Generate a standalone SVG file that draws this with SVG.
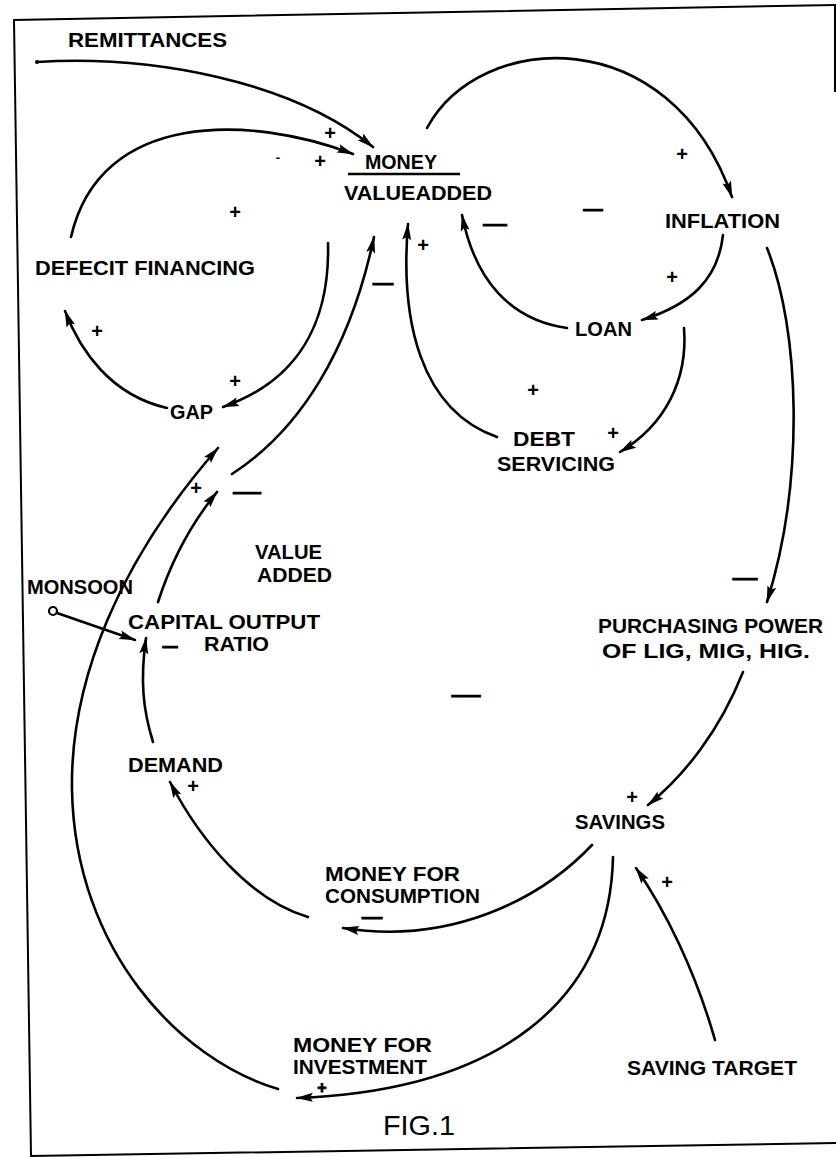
<svg xmlns="http://www.w3.org/2000/svg" width="836" height="1157" viewBox="0 0 836 1157">
<style>
.t{font-family:"Liberation Sans",Arial,sans-serif;font-weight:bold;font-size:21px;fill:#000}
.s{font-family:"Liberation Sans",Arial,sans-serif;font-weight:bold;font-size:20px;fill:#000;text-anchor:middle}
.d{font-family:"Liberation Sans",Arial,sans-serif;font-weight:bold;font-size:17px;fill:#000;stroke:#000;stroke-width:1.2;text-anchor:middle}
.c{fill:none;stroke:#000;stroke-width:2.6;stroke-linecap:round}
.b{fill:none;stroke:#000;stroke-width:2}
</style>
<defs>
<marker id="ah" markerUnits="userSpaceOnUse" markerWidth="17" markerHeight="10" viewBox="0 0 17 10" refX="16" refY="5" orient="auto">
<path d="M0,0.5 L17,5 L0,9.5 L3,5 z" fill="#000"/>
</marker>
</defs>
<rect width="836" height="1157" fill="#fff"/>
<g id="frame">
<path class="b" d="M836,5 L14,20 L31,1156 L836,1143"/>
<path class="b" d="M835,5 L835,92"/>
</g>
<g id="connectors">
<path class="c" marker-end="url(#ah)" d="M37,62 C150,55 290,80 373,147"/>
<circle cx="37" cy="62" r="2" fill="#000"/>
<path class="c" marker-end="url(#ah)" d="M71,237 C100,110 250,115 353,154"/>
<path class="c" marker-end="url(#ah)" d="M427,128 C480,30 670,20 732,197"/>
<path class="c" marker-end="url(#ah)" d="M723,235 C718,280 690,305 642,320"/>
<path class="c" marker-end="url(#ah)" d="M567,328 C510,320 475,280 462,215"/>
<path class="c" marker-end="url(#ah)" d="M684,328 C688,380 665,425 620,452"/>
<path class="c" marker-end="url(#ah)" d="M497,437 C420,410 400,320 408,224"/>
<path class="c" marker-end="url(#ah)" d="M328,243 C330,320 300,380 223,407"/>
<path class="c" marker-end="url(#ah)" d="M167,408 C110,395 80,350 65,311"/>
<path class="c" marker-end="url(#ah)" d="M232,474 C300,430 350,350 374,237"/>
<path class="c" marker-end="url(#ah)" d="M158,602 C170,565 190,525 217,492"/>
<path class="c" marker-end="url(#ah)" d="M278,1089 C180,1060 75,950 72,790 C70,680 120,560 218,448"/>
<circle cx="53" cy="611" r="4" fill="#fff" stroke="#000" stroke-width="2.2"/>
<path class="c" marker-end="url(#ah)" d="M57,613 L135,640"/>
<path class="c" marker-end="url(#ah)" d="M153,742 C143,710 140,680 146,638"/>
<path class="c" marker-end="url(#ah)" d="M592,845 C540,900 450,945 343,928"/>
<path class="c" marker-end="url(#ah)" d="M308,917 C250,900 200,840 170,782"/>
<path class="c" marker-end="url(#ah)" d="M613,857 C610,1000 500,1090 297,1098"/>
<path class="c" marker-end="url(#ah)" d="M715,1040 C695,970 665,910 636,868"/>
<path class="c" marker-end="url(#ah)" d="M767,248 C800,330 805,480 767,602"/>
<path class="c" marker-end="url(#ah)" d="M743,672 C720,730 685,775 648,805"/>
<line x1="348" y1="174" x2="460" y2="174" stroke="#000" stroke-width="2.6"/>
</g>
<g id="signs">
<text class="s" x="330" y="140">+</text>
<text class="s" x="320" y="168">+</text>
<text class="s" x="278" y="162" style="font-size:13px">-</text>
<text class="s" x="235" y="219">+</text>
<text class="s" x="682" y="161">+</text>
<text class="d" x="495" y="230" textLength="23" lengthAdjust="spacingAndGlyphs">—</text>
<text class="d" x="593" y="215" textLength="19" lengthAdjust="spacingAndGlyphs">—</text>
<text class="s" x="672" y="284">+</text>
<text class="s" x="423" y="252">+</text>
<text class="s" x="533" y="397">+</text>
<text class="s" x="613" y="440">+</text>
<text class="d" x="383" y="289" textLength="20" lengthAdjust="spacingAndGlyphs">—</text>
<text class="s" x="235" y="388">+</text>
<text class="s" x="97" y="338">+</text>
<text class="s" x="196" y="495">+</text>
<text class="d" x="247" y="498" textLength="27" lengthAdjust="spacingAndGlyphs">—</text>
<text class="d" x="170" y="652" textLength="15" lengthAdjust="spacingAndGlyphs">—</text>
<text class="s" x="193" y="793">+</text>
<text class="d" x="466" y="701" textLength="28" lengthAdjust="spacingAndGlyphs">—</text>
<text class="d" x="745" y="584" textLength="24" lengthAdjust="spacingAndGlyphs">—</text>
<text class="s" x="632" y="804">+</text>
<text class="d" x="372" y="923" textLength="20" lengthAdjust="spacingAndGlyphs">—</text>
<text class="s" x="322" y="1093" style="font-size:16px;stroke:#000;stroke-width:0.8">+</text>
<text class="s" x="667" y="889">+</text>
</g>
<g id="n-remittances"><text class="t" x="68" y="47" textLength="159" lengthAdjust="spacingAndGlyphs">REMITTANCES</text></g>
<g id="n-money"><text class="t"><tspan x="365" y="169" textLength="72" lengthAdjust="spacingAndGlyphs">MONEY</tspan><tspan x="344" y="200" textLength="148" lengthAdjust="spacingAndGlyphs">VALUEADDED</tspan></text></g>
<g id="n-inflation"><text class="t" x="665" y="228" textLength="115" lengthAdjust="spacingAndGlyphs">INFLATION</text></g>
<g id="n-deficit"><text class="t" x="35" y="275" textLength="220" lengthAdjust="spacingAndGlyphs">DEFECIT FINANCING</text></g>
<g id="n-loan"><text class="t" x="575" y="336" textLength="57" lengthAdjust="spacingAndGlyphs">LOAN</text></g>
<g id="n-debt"><text class="t"><tspan x="513" y="446" textLength="62" lengthAdjust="spacingAndGlyphs">DEBT</tspan><tspan x="497" y="471" textLength="118" lengthAdjust="spacingAndGlyphs">SERVICING</tspan></text></g>
<g id="n-gap"><text class="t" x="170" y="419" textLength="43" lengthAdjust="spacingAndGlyphs">GAP</text></g>
<g id="n-valueadded"><text class="t"><tspan x="255" y="559" textLength="67" lengthAdjust="spacingAndGlyphs">VALUE</tspan><tspan x="257" y="582" textLength="75" lengthAdjust="spacingAndGlyphs">ADDED</tspan></text></g>
<g id="n-monsoon"><text class="t" x="27" y="594" textLength="106" lengthAdjust="spacingAndGlyphs">MONSOON</text></g>
<g id="n-cor"><text class="t"><tspan x="128" y="629" textLength="192" lengthAdjust="spacingAndGlyphs">CAPITAL OUTPUT</tspan><tspan x="204" y="651" textLength="65" lengthAdjust="spacingAndGlyphs">RATIO</tspan></text></g>
<g id="n-demand"><text class="t" x="128" y="772" textLength="95" lengthAdjust="spacingAndGlyphs">DEMAND</text></g>
<g id="n-pp"><text class="t"><tspan x="598" y="633" textLength="225" lengthAdjust="spacingAndGlyphs">PURCHASING POWER</tspan><tspan x="602" y="658" textLength="208" lengthAdjust="spacingAndGlyphs">OF LIG, MIG, HIG.</tspan></text></g>
<g id="n-savings"><text class="t" x="575" y="829" textLength="90" lengthAdjust="spacingAndGlyphs">SAVINGS</text></g>
<g id="n-consumption"><text class="t"><tspan x="325" y="881" textLength="135" lengthAdjust="spacingAndGlyphs">MONEY FOR</tspan><tspan x="325" y="903" textLength="155" lengthAdjust="spacingAndGlyphs">CONSUMPTION</tspan></text></g>
<g id="n-investment"><text class="t"><tspan x="293" y="1052" textLength="139" lengthAdjust="spacingAndGlyphs">MONEY FOR</tspan><tspan x="293" y="1074" textLength="134" lengthAdjust="spacingAndGlyphs">INVESTMENT</tspan></text></g>
<g id="n-target"><text class="t" x="627" y="1075" textLength="170" lengthAdjust="spacingAndGlyphs">SAVING TARGET</text></g>
<g id="caption"><text x="383" y="1135" textLength="72" lengthAdjust="spacingAndGlyphs" style="font-family:'Liberation Sans',Arial,sans-serif;font-size:28px;fill:#000">FIG.1</text></g>
</svg>
